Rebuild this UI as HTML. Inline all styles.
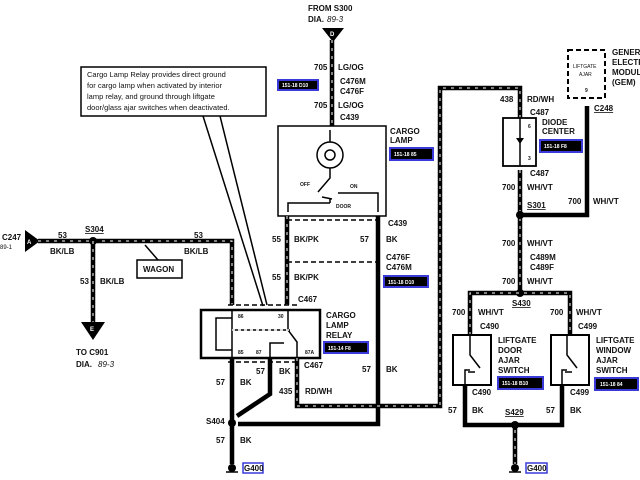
<!DOCTYPE html>
<html><head><meta charset="utf-8"><style>
html,body{margin:0;padding:0;background:#fff;}
svg{display:block;}
text{font-family:"Liberation Sans",sans-serif;font-weight:bold;font-size:8px;fill:#111;}
.w{fill:none;stroke:#000;stroke-width:4.5;}
.d{fill:none;stroke:#fff;stroke-width:1;stroke-dasharray:3 5;}
.t{fill:none;stroke:#000;stroke-width:1.5;}
.bl{fill:#000;stroke:#3a3ad8;stroke-width:2;}
text.bt{fill:#fff;font-size:5px;}
text.s5{font-size:5px;}
text.s6{font-size:6px;}
text.n{font-weight:normal;}
text.c{font-weight:normal;font-size:7.5px;}
text.wh{fill:#fff;font-size:6px;}
.u{text-decoration:underline;}
</style></head><body>
<svg width="640" height="480" viewBox="0 0 640 480" xmlns="http://www.w3.org/2000/svg">
<text x="308" y="11">FROM S300</text>
<text x="308" y="22">DIA.</text><text x="327" y="22" class="n" font-style="italic">89-3</text>
<polygon points="322,28 344,28 333,42" fill="#000"/>
<text x="330" y="36" class="wh">D</text>
<path class="w" d="M332,40 V126"/><path class="d" d="M332,40 V126"/>
<text x="314" y="70">705</text><text x="338" y="70">LG/OG</text>
<text x="340" y="84">C476M</text><text x="340" y="94">C476F</text>
<rect class="bl" x="278" y="80" width="40" height="10"/><text class="bt" x="282" y="87">151-18 D10</text>
<text x="314" y="108">705</text><text x="338" y="108">LG/OG</text>
<text x="340" y="120">C439</text>
<rect x="278" y="126" width="108" height="90" class="t" stroke-width="2"/>
<text x="390" y="134">CARGO</text><text x="390" y="143">LAMP</text>
<rect class="bl" x="390" y="148" width="43" height="12"/><text class="bt" x="394" y="156">151-18 85</text>
<circle cx="330" cy="155" r="13" class="t"/><circle cx="330" cy="155" r="5" class="t" stroke-width="1"/>
<path class="t" d="M330,130 V142 M330,168 V178 L318,192 M322,197 L332,199 M330,199 V203 M338,193 L378,193 V212 M330,203 H288 V212"/>
<text x="300" y="186" class="s5">OFF</text><text x="350" y="188" class="s5">ON</text><text x="336" y="208" class="s5">DOOR</text>
<path d="M287,220 H380" stroke="#000" stroke-width="1.5" stroke-dasharray="5 3"/>
<text x="388" y="226">C439</text>
<path class="w" d="M287,216 V305"/><path class="d" d="M287,216 V305"/>
<path class="w" d="M378,216 V424 H238"/>
<text x="272" y="242">55</text><text x="294" y="242">BK/PK</text>
<text x="360" y="242">57</text><text x="386" y="242">BK</text>
<path d="M287,262 H378" stroke="#000" stroke-width="1.5" stroke-dasharray="5 3"/>
<text x="386" y="260">C476F</text><text x="386" y="270">C476M</text>
<rect class="bl" x="384" y="276" width="44" height="11"/><text class="bt" x="388" y="284">151-18 D10</text>
<text x="272" y="280">55</text><text x="294" y="280">BK/PK</text>
<text x="362" y="372">57</text><text x="386" y="372">BK</text>
<rect x="81" y="67" width="185" height="49" fill="#fff" stroke="#000" stroke-width="1.5"/>
<text x="87" y="77" class="c">Cargo Lamp Relay provides direct ground</text>
<text x="87" y="88" class="c">for cargo lamp when activated by interior</text>
<text x="87" y="99" class="c">lamp relay, and ground through liftgate</text>
<text x="87" y="110" class="c">door/glass ajar switches when deactivated.</text>
<path class="t" d="M203,116 L263,306 M220,116 L267,305" stroke-width="1.2"/>
<text x="2" y="240">C247</text><text x="0" y="249" class="n s6">89-1</text>
<polygon points="25,230 25,252 40,241" fill="#000"/>
<text x="27" y="244" class="wh">A</text>
<path class="w" d="M38,241 H232 V305"/><path class="d" d="M38,241 H232 V305"/>
<text x="58" y="238">53</text><text x="50" y="254">BK/LB</text>
<text x="85" y="232" class="u">S304</text>
<circle cx="93" cy="241" r="4" fill="#000"/>
<text x="194" y="238">53</text><text x="184" y="254">BK/LB</text>
<path class="t" d="M145,245 L158,260" stroke-width="1"/>
<rect x="137" y="260" width="45" height="18" fill="#fff" stroke="#000" stroke-width="1.5"/>
<text x="143" y="272">WAGON</text>
<path class="w" d="M93,241 V322"/><path class="d" d="M93,241 V322"/>
<text x="80" y="284">53</text><text x="100" y="284">BK/LB</text>
<polygon points="81,322 105,322 93,340" fill="#000"/>
<text x="90" y="331" class="wh">E</text>
<text x="76" y="355">TO C901</text><text x="76" y="367">DIA.</text><text x="98" y="367" class="n" font-style="italic">89-3</text>
<path d="M228,305 H300" stroke="#000" stroke-width="1.5" stroke-dasharray="5 3"/>
<text x="298" y="302">C467</text>
<rect x="201" y="310" width="119" height="48" fill="none" stroke="#000" stroke-width="2.5"/>
<text x="326" y="318">CARGO</text><text x="326" y="328">LAMP</text><text x="326" y="338">RELAY</text>
<rect class="bl" x="324" y="342" width="44" height="11"/><text class="bt" x="328" y="350">151-14 F8</text>
<path class="t" d="M232,310 V358 M232,318 H216 V350 H232 M288,310 V330 L297,342 V358 M232,330 H290 M270,358 V343 H284" stroke-width="1.3"/>
<path d="M232,330 H290" stroke="#fff" stroke-width="1.5" stroke-dasharray="3 3"/>
<text x="238" y="318" class="s5">86</text><text x="278" y="318" class="s5">30</text>
<text x="238" y="354" class="s5">85</text><text x="256" y="354" class="s5">87</text><text x="305" y="354" class="s5">87A</text>
<path d="M228,362 H300" stroke="#000" stroke-width="1.5" stroke-dasharray="5 3"/>
<text x="304" y="368">C467</text>
<path class="w" d="M232,358 V464"/>
<path class="w" d="M270,358 V394 L237,416"/>
<path class="w" d="M297,358 V406 H440 V88 H520 V118"/><path class="d" d="M297,358 V406 H440 V88 H520 V118"/>
<text x="216" y="385">57</text><text x="240" y="385">BK</text>
<text x="256" y="374">57</text><text x="279" y="374">BK</text>
<text x="279" y="394">435</text><text x="305" y="394">RD/WH</text>
<circle cx="232" cy="423" r="4" fill="#000"/>
<text x="206" y="424">S404</text>
<text x="216" y="443">57</text><text x="240" y="443">BK</text>
<circle cx="232" cy="468" r="4" fill="#000"/><path class="t" d="M226,472 H238"/>
<rect x="243" y="463" width="20" height="10" fill="#fff" stroke="#3a3ad8" stroke-width="1.5"/><text x="244" y="471">G400</text>
<text x="500" y="102">438</text><text x="527" y="102">RD/WH</text>
<text x="530" y="115">C487</text>
<rect x="503" y="118" width="33" height="48" fill="none" stroke="#000" stroke-width="1.8"/>
<path class="t" d="M520,118 V166" stroke-width="1"/><polygon points="516,138 524,138 520,144" fill="#000"/>
<text x="528" y="128" class="s5">6</text><text x="528" y="160" class="s5">3</text>
<text x="542" y="125">DIODE</text><text x="542" y="134">CENTER</text>
<rect class="bl" x="540" y="140" width="42" height="12"/><text class="bt" x="544" y="148">151-18 F8</text>
<text x="530" y="176">C487</text>
<path class="w" d="M520,170 V293"/><path class="d" d="M520,170 V293"/>
<text x="502" y="190">700</text><text x="527" y="190">WH/VT</text>
<text x="527" y="208" class="u">S301</text>
<circle cx="520" cy="215" r="4" fill="#000"/>
<path class="w" d="M520,215 H587 V106"/>
<text x="568" y="204">700</text><text x="593" y="204">WH/VT</text>
<rect x="568" y="50" width="37" height="48" fill="none" stroke="#000" stroke-width="2" stroke-dasharray="5 3"/>
<text x="573" y="68" class="s5 n">LIFTGATE</text><text x="579" y="76" class="s5 n">AJAR</text>
<text x="585" y="92" class="s5">9</text>
<text x="594" y="111" class="u">C248</text>
<text x="612" y="55">GENERIC</text><text x="612" y="65">ELECTRONIC</text><text x="612" y="75">MODULE</text><text x="612" y="85">(GEM)</text>
<text x="502" y="246">700</text><text x="527" y="246">WH/VT</text>
<text x="530" y="260">C489M</text><text x="530" y="270">C489F</text>
<text x="502" y="284">700</text><text x="527" y="284">WH/VT</text>
<circle cx="520" cy="293" r="4" fill="#000"/>
<text x="512" y="306" class="u">S430</text>
<path class="w" d="M470,335 V293 H570 V335"/><path class="d" d="M470,335 V293 H570 V335"/>
<text x="452" y="315">700</text><text x="478" y="315">WH/VT</text>
<text x="550" y="315">700</text><text x="576" y="315">WH/VT</text>
<text x="480" y="329">C490</text><text x="578" y="329">C499</text>
<rect x="453" y="335" width="38" height="50" fill="none" stroke="#000" stroke-width="2"/>
<rect x="551" y="335" width="38" height="50" fill="none" stroke="#000" stroke-width="2"/>
<path class="t" d="M470,335 V355 L480,368 M475,372 H468 M465,385 V370 H470 M567,335 V355 L577,368 M572,372 H565 M562,385 V370 H567" stroke-width="1.3"/>
<text x="498" y="343">LIFTGATE</text><text x="498" y="353">DOOR</text><text x="498" y="363">AJAR</text><text x="498" y="373">SWITCH</text>
<rect class="bl" x="498" y="377" width="45" height="12"/><text class="bt" x="502" y="385">151-18 B10</text>
<text x="596" y="343">LIFTGATE</text><text x="596" y="353">WINDOW</text><text x="596" y="363">AJAR</text><text x="596" y="373">SWITCH</text>
<rect class="bl" x="595" y="378" width="43" height="12"/><text class="bt" x="600" y="386">151-18 84</text>
<text x="472" y="395">C490</text><text x="570" y="395">C499</text>
<path class="w" d="M465,385 V425 H562 V385"/>
<path class="w" d="M515,425 V464"/><path class="d" d="M515,430 V464" stroke-width="1.5"/>
<circle cx="515" cy="425" r="4" fill="#000"/>
<text x="448" y="413">57</text><text x="472" y="413">BK</text>
<text x="546" y="413">57</text><text x="570" y="413">BK</text>
<text x="505" y="415" class="u">S429</text>
<circle cx="515" cy="468" r="4" fill="#000"/><path class="t" d="M509,472 H521"/>
<rect x="526" y="463" width="21" height="10" fill="#fff" stroke="#3a3ad8" stroke-width="1.5"/><text x="527" y="471">G400</text>
</svg>
</body></html>
